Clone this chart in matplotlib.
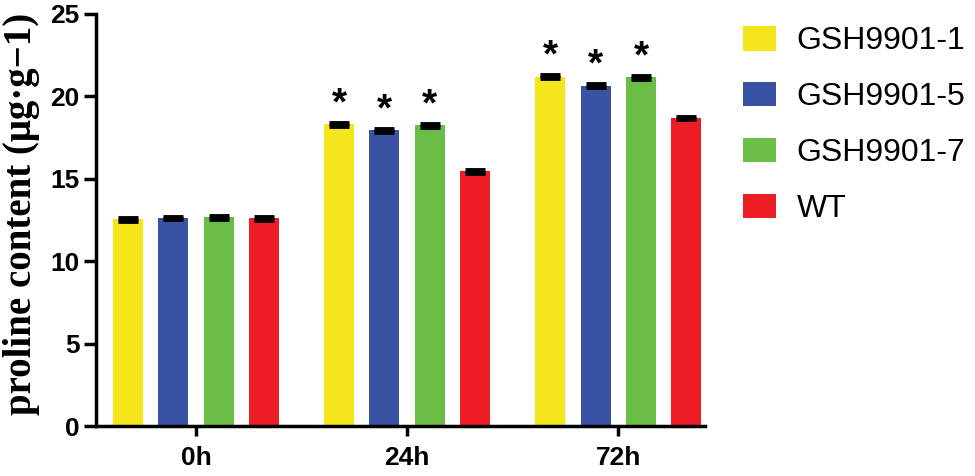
import numpy as np
import matplotlib.pyplot as plt
from matplotlib.patches import Patch

# datos
tiempos = ["0h", "24h", "72h"]
lineas = ["GSH9901-1", "GSH9901-5", "GSH9901-7", "WT"]
colores = ["#F4E61A", "#3A52A3", "#6ABD45", "#EC1D25"]
gsh1 = [12.55, 18.30, 21.20]
gsh5 = [12.62, 17.95, 20.65]
gsh7 = [12.66, 18.25, 21.15]
wt = [12.60, 15.45, 18.68]
err1 = [0.08, 0.08, 0.08]
err5 = [0.08, 0.08, 0.08]
err7 = [0.08, 0.08, 0.08]
errwt = [0.08, 0.08, 0.08]
signif1 = [False, True, True]
signif5 = [False, True, True]
signif7 = [False, True, True]
signifwt = [False, False, False]

valores = [gsh1, gsh5, gsh7, wt]
errores = [err1, err5, err7, errwt]
signif = [signif1, signif5, signif7, signifwt]

fig = plt.figure(figsize=(9.75, 4.76), dpi=100)
ax = fig.add_axes([0.0985, 0.105, 0.6245, 0.8656])

xi = np.arange(len(tiempos))
ancho = 0.142
paso = 0.215
for k in range(len(lineas)):
    pos = xi + (k - 1.5) * paso
    ax.bar(pos, valores[k], width=ancho, color=colores[k], label=lineas[k])
    ax.errorbar(pos, valores[k], yerr=errores[k], fmt="none", ecolor="black",
                elinewidth=2, capsize=7, capthick=3.5)
    for j in range(len(tiempos)):
        if signif[k][j]:
            ax.text(pos[j], valores[k][j] + errores[k][j] + 0.05, "*",
                    ha="center", va="bottom", fontsize=28, fontweight="bold",
                    family="Liberation Sans")

ax.set_xlim(-0.473, 2.41)
ax.set_ylim(0, 25)
ax.set_yticks([0, 5, 10, 15, 20, 25])
ax.set_xticks(xi)
ax.set_xticklabels(tiempos)
for s in ["top", "right"]:
    ax.spines[s].set_visible(False)
for s in ["left", "bottom"]:
    ax.spines[s].set_linewidth(2.5)
ax.tick_params(axis="y", length=9, width=2.5, labelsize=19, pad=3)
ax.tick_params(axis="x", length=7.5, width=2.5, labelsize=19, pad=7)
for t in ax.get_xticklabels() + ax.get_yticklabels():
    t.set_fontweight("bold")
    t.set_family("Liberation Sans")

ax.set_ylabel("proline content (μg·g−1)", fontsize=28, fontweight="bold",
              family="Liberation Serif")
ax.yaxis.set_label_coords(-0.092, 0.516)

manijas = [Patch(facecolor=c, edgecolor="none") for c in colores]
fig.legend(manijas, lineas, loc="upper left", bbox_to_anchor=(0.762, 0.945),
           frameon=False, handlelength=1.03, handleheight=0.8,
           handletextpad=0.65, labelspacing=0.8, borderpad=0, borderaxespad=0,
           prop={"family": "Liberation Sans", "size": 23})

fig.savefig("out.png", dpi=100)
